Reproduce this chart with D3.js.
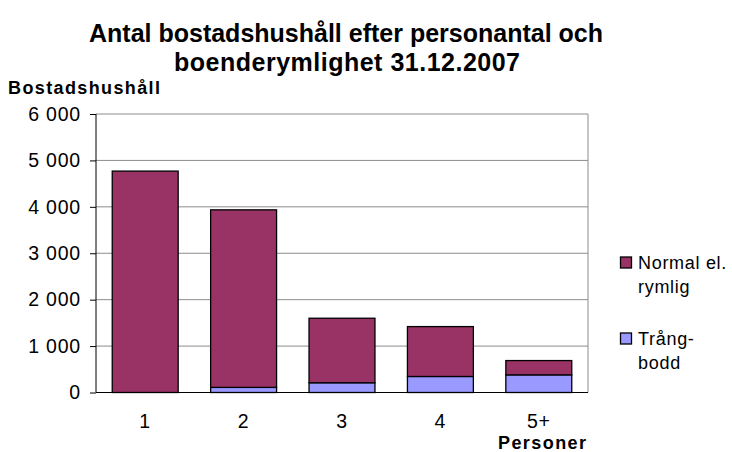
<!DOCTYPE html>
<html>
<head>
<meta charset="utf-8">
<script src="https://cdn.jsdelivr.net/npm/d3@7"></script>
<style>
  body { margin: 0; background: #fff; }
  text { font-family: "Liberation Sans", Arial, sans-serif; fill: #000; }
</style>
</head>
<body>
<svg></svg>
<script>

var categories = ['1', '2', '3', '4', '5+']
var trangbodd = [0, 110, 210, 345, 380]
var normal = [4770, 3825, 1390, 1075, 308]
var seriesNames = ['Trångbodd', 'Normal el. rymlig']
var yTicks = [0, 1000, 2000, 3000, 4000, 5000, 6000]

var svg = d3.select('svg')
   .attr('width', 732)
   .attr('height', 452)

var colors = { 'Normal el. rymlig': '#993366', 'Trångbodd': '#9999ff' }

var table = categories.map((c, i) => {
   return { cat: c, 'Trångbodd': trangbodd[i], 'Normal el. rymlig': normal[i] }
})

var stacked = d3.stack().keys(seriesNames)(table)

var x = d3.scaleBand()
   .domain(categories)
   .range([96, 588])
   .paddingInner(0.33)
   .paddingOuter(0.165)

var y = d3.scaleLinear()
   .domain([0, 6000])
   .range([392.5, 114])

// gridlines
svg.append('g')
   .selectAll('line')
   .data(yTicks.slice(1))
   .enter()
   .append('line')
   .attr('x1', 96)
   .attr('x2', 588)
   .attr('y1', (d) => y(d))
   .attr('y2', (d) => y(d))
   .attr('stroke', '#8c8c8c')
   .attr('stroke-width', 1)

// right border
svg.append('line')
   .attr('x1', 588).attr('x2', 588)
   .attr('y1', y(6000)).attr('y2', y(0))
   .attr('stroke', '#8c8c8c')

// bars
svg.append('g')
   .selectAll('g')
   .data(stacked)
   .enter()
   .append('g')
   .attr('fill', (d) => colors[d.key])
   .selectAll('rect')
   .data((d) => d.filter((e) => e[1] - e[0] > 0))
   .enter()
   .append('rect')
   .attr('x', (d) => x(d.data.cat))
   .attr('width', x.bandwidth())
   .attr('y', (d) => y(d[1]))
   .attr('height', (d) => y(d[0]) - y(d[1]))
   .attr('stroke', '#000')
   .attr('stroke-width', 1.3)

// y axis
var yAxis = svg.append('g')
   .attr('transform', 'translate(96,0)')
   .call(d3.axisLeft(y)
      .tickValues(yTicks)
      .tickSize(6)
      .tickPadding(9)
      .tickFormat((d) => d3.format(',')(d).replace(/,/g, ' ')))
yAxis.select('.domain').attr('stroke', '#000').attr('d', 'M0,' + y(6000) + 'V' + y(0))
yAxis.selectAll('.tick line').attr('stroke', '#000')
yAxis.selectAll('text')
   .style('font-size', '19.5px')
   .style('letter-spacing', '0.8px')
   .style('font-family', '"Liberation Sans", Arial, sans-serif')

// x axis
var xAxis = svg.append('g')
   .attr('transform', 'translate(0,' + y(0) + ')')
   .call(d3.axisBottom(x).tickSize(0).tickPadding(22))
xAxis.select('.domain').attr('stroke', '#000').attr('d', 'M96,0H588')
xAxis.selectAll('text')
   .style('font-size', '19.5px')
   .style('letter-spacing', '0.8px')
   .style('font-family', '"Liberation Sans", Arial, sans-serif')

// titles
var title = svg.append('text')
   .attr('text-anchor', 'middle')
   .style('font-size', '25px')
   .style('font-weight', 'bold')
title.append('tspan').attr('x', 346).attr('y', 42).text('Antal bostadshushåll efter personantal och')
title.append('tspan').attr('x', 347).attr('y', 71).attr('textLength', 346).text('boenderymlighet 31.12.2007')

svg.append('text')
   .attr('x', 8)
   .attr('y', 94)
   .attr('textLength', 152)
   .style('font-size', '18px')
   .style('font-weight', 'bold')
   .text('Bostadshushåll')

svg.append('text')
   .attr('x', 542)
   .attr('y', 449)
   .attr('text-anchor', 'middle')
   .attr('textLength', 88)
   .style('font-size', '18px')
   .style('font-weight', 'bold')
   .text('Personer')

// legend
var legendData = [
   { key: 'Normal el. rymlig', lines: ['Normal el.', 'rymlig'], y: 262 },
   { key: 'Trångbodd', lines: ['Trång-', 'bodd'], y: 338 }
]
var legend = svg.append('g')
legend.selectAll('rect')
   .data(legendData)
   .enter()
   .append('rect')
   .attr('x', 620.5)
   .attr('y', (d) => d.y - 5)
   .attr('width', 11)
   .attr('height', 11)
   .attr('fill', (d) => colors[d.key])
   .attr('stroke', '#000')
   .attr('stroke-width', 1.3)
legend.selectAll('text')
   .data(legendData)
   .enter()
   .append('text')
   .attr('x', 638)
   .attr('y', (d) => d.y + 7)
   .style('font-size', '18px')
   .style('letter-spacing', '0.7px')
   .each(function (d) {
      d3.select(this).selectAll('tspan')
         .data(d.lines)
         .enter()
         .append('tspan')
         .attr('x', 638)
         .attr('dy', (l, i) => i === 0 ? 0 : 24)
         .text((l) => l)
   })
</script>
</body>
</html>
